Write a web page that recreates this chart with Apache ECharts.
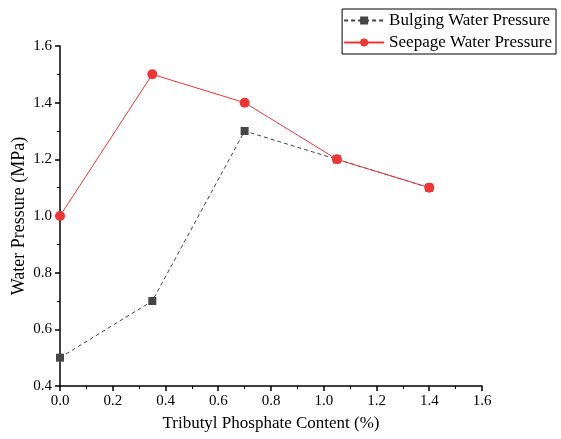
<!DOCTYPE html>
<html>
<head>
<meta charset="utf-8">
<script src="https://cdn.jsdelivr.net/npm/echarts@6/dist/echarts.min.js"></script>
<style>
  html, body { margin: 0; padding: 0; background: #fff; }
  #chart { width: 561px; height: 439px; }
</style>
</head>
<body>
<div id="chart"></div>
<script>
// 数据
const tbpContent = [0, 0.35, 0.7, 1.05, 1.4];
const bulgingPressure = [0.5, 0.7, 1.3, 1.2, 1.1];
const seepagePressure = [1.0, 1.5, 1.4, 1.2, 1.1];

const FONT = '"Liberation Serif", "Times New Roman", serif';

function pairs(xs, ys) {
  return xs.map((x, i) => [x, ys[i]]);
}

const chart = echarts.init(document.getElementById('chart'));
chart.setOption({
  animation: false,
  grid: { left: 60, right: 79, top: 46, bottom: 53, outerBoundsMode: 'none', containLabel: false },
  legend: {
    orient: 'vertical',
    right: 5,
    top: 9,
    padding: [3, 4, 3, 1],
    itemGap: 5,
    itemWidth: 40,
    itemHeight: 10,
    borderColor: '#000',
    borderWidth: 1,
    textStyle: { fontFamily: FONT, fontSize: 17, color: '#000' },
    data: ['Bulging Water Pressure', 'Seepage Water Pressure']
  },
  xAxis: {
    type: 'value',
    min: 0, max: 1.6, interval: 0.2,
    name: 'Tributyl Phosphate Content (%)',
    nameLocation: 'middle',
    nameGap: 29,
    nameMoveOverlap: false,
    nameTextStyle: { fontFamily: FONT, fontSize: 17, color: '#000' },
    axisLine: { show: true, lineStyle: { color: '#000', width: 1.5 } },
    axisTick: { show: true, length: 5, lineStyle: { color: '#000', width: 1.5 } },
    minorTick: { show: true, splitNumber: 2, length: 3, lineStyle: { color: '#000', width: 1 } },
    axisLabel: { fontFamily: FONT, fontSize: 15, color: '#000', margin: 8,
      formatter: v => v.toFixed(1) },
    splitLine: { show: false }
  },
  yAxis: {
    type: 'value',
    min: 0.4, max: 1.6, interval: 0.2,
    name: 'Water Pressure (MPa)',
    nameLocation: 'middle',
    nameGap: 32,
    nameMoveOverlap: false,
    nameTextStyle: { fontFamily: FONT, fontSize: 18, color: '#000' },
    axisLine: { show: true, lineStyle: { color: '#000', width: 1.5 } },
    axisTick: { show: true, length: 5, lineStyle: { color: '#000', width: 1.5 } },
    minorTick: { show: true, splitNumber: 2, length: 3, lineStyle: { color: '#000', width: 1 } },
    axisLabel: { fontFamily: FONT, fontSize: 15, color: '#000', margin: 8,
      formatter: v => v.toFixed(1) },
    splitLine: { show: false }
  },
  series: [
    {
      name: 'Bulging Water Pressure',
      type: 'line',
      data: pairs(tbpContent, bulgingPressure),
      symbol: 'rect',
      symbolSize: 8,
      itemStyle: { color: '#454545' },
      lineStyle: { color: '#454545', width: 1, type: [4, 3] },
      z: 2
    },
    {
      name: 'Seepage Water Pressure',
      type: 'line',
      data: pairs(tbpContent, seepagePressure),
      symbol: 'circle',
      symbolSize: 10,
      itemStyle: { color: '#ef3434' },
      lineStyle: { color: '#ef3434', width: 1 },
      z: 3
    }
  ]
});
</script>
</body>
</html>
